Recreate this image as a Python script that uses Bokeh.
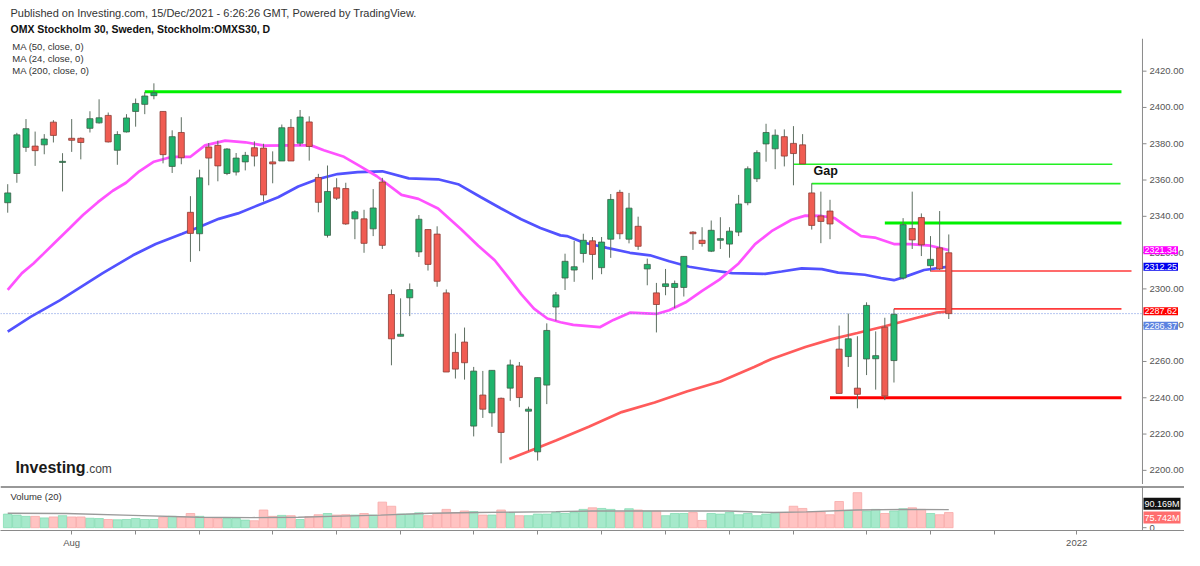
from bokeh.plotting import figure
from bokeh.layouts import column
from bokeh.models import Range1d, FixedTicker, Label, Span, ColumnDataSource
from bokeh.embed import file_html
from bokeh.resources import INLINE
from bokeh.core.properties import value

FONT = "Liberation Sans"
W = 1184

# ---------------- data ----------------
opens = [2347.5, 2363.6, 2378.0, 2378.7, 2379.4, 2391.9, 2369.7, 2383.0, 2383.0, 2388.5,
         2391.5, 2395.6, 2376.4, 2386.5, 2397.8, 2401.7, 2406.5, 2397.8, 2367.5, 2386.2,
         2342.2, 2330.4, 2378.2, 2379.1, 2363.6, 2364.4, 2370.0, 2377.8, 2377.6, 2370.0,
         2370.5, 2389.0, 2380.3, 2392.0, 2361.4, 2329.5, 2355.7, 2355.3, 2338.6, 2338.6,
         2333.1, 2358.9, 2296.9, 2273.9, 2295.1, 2320.4, 2332.7, 2330.2, 2297.8, 2265.0,
         2270.7, 2224.4, 2241.5, 2231.7, 2239.7, 2245.3, 2257.5, 2232.6, 2210.2, 2247.0,
         2290.0, 2306.0, 2310.4, 2319.5, 2326.5, 2311.7, 2327.4, 2353.2, 2327.4, 2334.5,
         2311.0, 2297.8, 2301.3, 2300.8, 2300.8, 2331.3, 2326.8, 2320.8, 2326.8, 2324.7,
         2331.3, 2347.5, 2360.7, 2379.9, 2377.2, 2383.9, 2380.2, 2379.4, 2352.9, 2340.2,
         2342.9, 2266.8, 2262.7, 2245.3, 2261.4, 2261.5, 2278.9, 2260.5, 2306.0, 2333.3,
         2339.3, 2312.8, 2322.6, 2319.9]
highs = [2357.7, 2386.0, 2393.6, 2386.7, 2385.3, 2393.0, 2374.8, 2393.6, 2383.5, 2397.9,
         2404.5, 2397.2, 2386.9, 2396.3, 2404.9, 2408.5, 2413.3, 2397.8, 2387.4, 2394.6,
         2351.1, 2365.7, 2380.4, 2381.7, 2377.6, 2374.9, 2375.5, 2381.3, 2380.0, 2375.8,
         2390.6, 2393.6, 2398.6, 2395.1, 2363.4, 2368.0, 2361.0, 2358.5, 2343.3, 2343.6,
         2355.0, 2361.2, 2299.7, 2294.8, 2303.0, 2340.7, 2332.7, 2334.5, 2299.7, 2275.4,
         2278.7, 2257.0, 2254.8, 2255.1, 2240.1, 2261.0, 2259.7, 2235.1, 2251.1, 2281.0,
         2298.3, 2319.4, 2326.5, 2330.4, 2328.6, 2328.6, 2352.3, 2354.6, 2352.9, 2339.8,
         2316.7, 2303.3, 2311.0, 2304.6, 2317.9, 2331.8, 2334.0, 2337.7, 2339.5, 2334.0,
         2351.8, 2367.5, 2376.4, 2391.0, 2387.9, 2387.9, 2389.7, 2385.3, 2358.2, 2353.6,
         2349.1, 2279.8, 2286.4, 2273.9, 2292.6, 2276.6, 2284.1, 2289.0, 2339.0, 2353.6,
         2341.6, 2329.1, 2342.9, 2330.0]
lows = [2342.0, 2358.5, 2375.5, 2367.8, 2374.2, 2380.7, 2353.7, 2375.5, 2371.4, 2386.2,
        2391.1, 2380.7, 2368.4, 2386.2, 2389.4, 2396.3, 2404.5, 2369.2, 2363.9, 2368.7,
        2314.9, 2320.8, 2357.1, 2359.3, 2362.7, 2362.5, 2365.3, 2367.5, 2348.2, 2358.2,
        2370.5, 2370.5, 2378.7, 2370.7, 2342.2, 2328.3, 2349.0, 2335.3, 2327.4, 2319.9,
        2329.1, 2322.0, 2257.9, 2273.9, 2285.0, 2317.6, 2310.1, 2301.2, 2254.2, 2250.6,
        2250.0, 2218.7, 2228.9, 2224.0, 2203.9, 2238.3, 2234.8, 2210.7, 2205.4, 2236.5,
        2282.5, 2299.4, 2303.9, 2314.5, 2305.1, 2308.1, 2317.1, 2327.4, 2325.1, 2321.5,
        2302.0, 2276.0, 2296.5, 2289.4, 2295.8, 2321.5, 2323.3, 2320.3, 2322.0, 2317.2,
        2329.1, 2346.1, 2358.9, 2370.1, 2366.0, 2367.5, 2357.1, 2368.9, 2332.7, 2325.2,
        2327.4, 2242.4, 2257.0, 2234.2, 2252.5, 2244.5, 2238.7, 2248.4, 2305.1, 2322.0,
        2318.1, 2309.6, 2310.4, 2283.4]
closes = [2352.9, 2384.9, 2388.3, 2376.2, 2382.6, 2384.6, 2370.3, 2381.9, 2380.7, 2393.8,
          2394.3, 2381.0, 2385.1, 2394.2, 2402.2, 2406.3, 2408.1, 2374.0, 2383.9, 2372.3,
          2330.6, 2361.2, 2372.1, 2367.8, 2377.1, 2372.1, 2373.6, 2373.2, 2351.8, 2368.9,
          2388.8, 2370.5, 2394.7, 2378.5, 2347.7, 2353.7, 2350.0, 2335.8, 2342.5, 2325.1,
          2344.6, 2324.0, 2272.5, 2275.0, 2299.6, 2338.4, 2313.5, 2304.2, 2254.2, 2255.8,
          2259.3, 2254.7, 2233.7, 2255.1, 2220.9, 2258.1, 2240.1, 2233.7, 2251.1, 2277.1,
          2296.7, 2315.2, 2312.2, 2326.8, 2319.0, 2325.8, 2349.3, 2330.4, 2344.5, 2323.5,
          2313.5, 2291.4, 2302.8, 2303.0, 2317.9, 2330.4, 2325.0, 2332.3, 2327.7, 2331.8,
          2346.8, 2366.2, 2375.1, 2386.2, 2384.7, 2373.2, 2374.6, 2368.9, 2335.0, 2337.2,
          2335.8, 2242.4, 2272.5, 2241.9, 2290.9, 2263.2, 2241.0, 2286.0, 2335.4, 2327.0,
          2324.3, 2316.3, 2311.0, 2286.37]
volumes = [67.9, 63.1, 56.8, 56.8, 48.9, 53.7, 60.0, 53.7, 53.7, 47.3,
           45.8, 41.0, 39.5, 41.0, 45.8, 41.0, 41.0, 52.1, 56.8, 55.2,
           71.0, 56.8, 50.5, 45.8, 45.8, 45.8, 37.9, 34.7, 88.4, 56.8,
           61.5, 60.0, 41.0, 55.2, 64.7, 71.0, 63.1, 64.7, 63.1, 71.0,
           63.1, 127.8, 107.3, 67.9, 67.9, 74.2, 60.0, 71.0, 91.5, 75.7,
           83.6, 80.5, 63.1, 63.1, 88.4, 75.7, 60.0, 60.0, 67.9, 67.9,
           75.7, 71.0, 75.7, 91.5, 99.4, 96.3, 91.5, 78.9, 94.7, 88.4,
           83.6, 83.6, 60.0, 71.0, 71.0, 75.7, 36.3, 71.0, 67.9, 75.7,
           64.7, 71.0, 60.0, 67.9, 75.7, 75.7, 107.3, 96.3, 78.9, 78.9,
           64.7, 131.0, 86.8, 175.2, 83.6, 91.5, 71.0, 83.6, 94.7, 99.4,
           91.5, 71.0, 64.7, 75.742]

# moving averages (bar position, value)
ma50_x = [0, 2.5, 5.7, 10.4, 13.7, 16.2, 19.1, 20.9, 23.1, 25.2, 27.4, 29.6, 31.8, 33.9, 36.1,
          38.3, 41.0, 43.9, 47.1, 49.3, 51.8, 54.0, 56.2, 58.3, 60.5, 61.2, 63.0, 65.6, 68.1,
          70.3, 72.4, 74.6, 76.8, 79.3, 82.9, 84.7, 86.9, 89.1, 90.9, 93.8, 95.6, 97.0, 98.1,
          100.3, 103]
ma50_y = [2276.5, 2284.6, 2293.7, 2308.7, 2318.5, 2324.7, 2330.4, 2334.0, 2338.6, 2341.6, 2346.1,
          2350.5, 2356.4, 2360.4, 2363.3, 2364.4, 2364.8, 2360.9, 2360.4, 2357.7, 2350.5, 2344.3,
          2338.4, 2333.6, 2329.5, 2329.1, 2325.6, 2322.6, 2319.9, 2318.5, 2315.2, 2312.2, 2310.4,
          2308.7, 2308.3, 2309.6, 2311.3, 2310.9, 2309.0, 2307.8, 2306.0, 2304.8, 2306.5, 2310.4,
          2312.25]
ma24_x = [0, 1.56, 2.82, 3.9, 5.17, 6.8, 8.24, 9.87, 11.5, 12.95, 14.4, 16.0, 18.0, 20.0, 21.6,
          23.8, 26.0, 28.1, 31.0, 33.2, 34.6, 36.8, 38.6, 40.4, 43.1, 44.95, 47.1, 49.65, 51.5,
          53.3, 54.7, 56.2, 57.6, 59.06, 60.5, 61.9, 64.8, 66.3, 68.1, 71.0, 72.4, 74.2, 76.0,
          77.9, 80.0, 81.8, 83.6, 85.8, 87.3, 89.1, 90.5, 92.0, 93.4, 94.9, 97.0, 98.8, 101.0, 103]
ma24_y = [2299.5, 2308.7, 2314.0, 2319.3, 2325.6, 2333.6, 2340.7, 2347.8, 2354.1, 2358.5, 2364.8,
          2370.1, 2372.8, 2372.8, 2379.1, 2381.7, 2380.8, 2379.0, 2379.1, 2379.1, 2376.4, 2372.8,
          2367.5, 2362.1, 2351.8, 2349.6, 2344.3, 2332.7, 2323.8, 2315.8, 2306.9, 2297.1, 2289.1,
          2283.7, 2281.6, 2280.2, 2278.9, 2282.9, 2286.9, 2286.2, 2288.2, 2292.6, 2298.9, 2305.1,
          2314.0, 2324.7, 2331.8, 2338.1, 2340.4, 2340.2, 2339.0, 2333.6, 2329.1, 2328.3, 2324.7,
          2324.7, 2323.8, 2321.34]
ma200_x = [54.9, 57.6, 60.0, 63.6, 67.2, 70.8, 74.4, 78.0, 81.7, 83.6, 87.3, 90.1, 93.0, 95.9,
           99.2, 101.7, 103]
ma200_y = [2206.2, 2211.6, 2216.4, 2224.0, 2232.1, 2237.4, 2243.6, 2249.0, 2257.0, 2261.4, 2268.0,
           2272.2, 2275.7, 2279.3, 2283.7, 2286.9, 2287.62]
volma_x = [0, 6.4, 13.7, 20.9, 26.7, 31.8, 35.4, 40.8, 46.2, 51.3, 60, 64, 69.4, 78.8, 83.8, 87.4,
           92.9, 98.3, 103]
volma_y = [72.6, 71.0, 61.5, 52.0, 50.5, 52.0, 56.8, 63.1, 72.6, 75.7, 80.5, 83.6, 83.6, 83.6,
           75.7, 78.9, 88.4, 91.5, 90.169]

# drawn support / resistance levels
lvl_price = [2408.6, 2368.7, 2358.0, 2336.3, 2309.9, 2289.0, 2240.0]
lvl_start = [15.0, 86.0, 88.0, 96.0, 101.0, 97.0, 90.0]
lvl_end = [121.9, 120.9, 121.8, 121.9, 123.0, 121.9, 121.9]

price_ticks = list(range(2200, 2421, 20))
vol_ticks = [0]
x_ticks = [7, 14, 21, 29, 36, 43, 51, 58, 65, 72, 79, 86, 94, 101, 108, 117]
x_tick_labels = {7: "Aug", 117: "2022"}

header1 = "Published on Investing.com, 15/Dec/2021 - 6:26:26 GMT, Powered by TradingView."
header2 = "OMX Stockholm 30, Sweden, Stockholm:OMXS30, D"
ma_legend = ["MA (50, close, 0)", "MA (24, close, 0)", "MA (200, close, 0)"]

# ---------------- styles ----------------
GREEN, GREEN_LINE = "#1fb46c", "#3e5e48"
RED, RED_LINE = "#f05c52", "#8a3e36"
WICK = "#5e6f62"
VGREEN, VGREEN_LINE = "#a6e9cb", "#86dcb4"
VRED, VRED_LINE = "#ffc3c2", "#f7a9a8"
AXIS = "#8a8a8a"
TICKTXT = "#555555"
lvl_color = ["#00f000", "#22f022", "#22f022", "#00f000", "#ff3a3a", "#ff3a3a", "#ff0000"]
lvl_width = [3, 1.6, 1.6, 3, 1.6, 1.6, 3]

AX_X = 124.2      # position of the price scale (bar units)
TICK_LEN = 0.44   # tick length (bar units)

n = len(closes)
idx = list(range(n))
up = [c >= o for o, c in zip(opens, closes)]


def sub(mask):
    return ColumnDataSource(dict(
        x=[i for i in idx if mask[i]],
        top=[max(opens[i], closes[i]) for i in idx if mask[i]],
        bottom=[min(opens[i], closes[i]) for i in idx if mask[i]],
        vol=[volumes[i] for i in idx if mask[i]],
    ))


src_up = sub(up)
src_dn = sub([not u for u in up])

X_RANGE = Range1d(-0.79, 128.8)


def price_scale(fig, ticks, labels):
    fig.add_layout(Span(location=AX_X, dimension="height", line_color=AXIS, line_width=1))
    fig.segment(x0=[AX_X] * len(ticks), y0=ticks, x1=[AX_X + TICK_LEN] * len(ticks), y1=ticks,
                line_color=AXIS, line_width=1)
    fig.text(x=[AX_X] * len(ticks), y=ticks, text=labels, x_offset=7,
             text_font=value(FONT), text_font_size="9.5px", text_color=TICKTXT,
             text_baseline="middle", text_align="left")


def tag(fig, y, text, bg, yoff=0):
    fig.add_layout(Label(x=AX_X, y=y, text=text, x_offset=1, y_offset=yoff,
                         text_font=FONT, text_font_size="9px", text_color="white",
                         text_baseline="middle", background_fill_color=bg, padding=1))


# ---------------- header ----------------
h = figure(width=W, height=38, x_range=Range1d(0, W), y_range=Range1d(38, 0),
           output_backend="svg", toolbar_location=None, x_axis_location=None,
           y_axis_location=None, min_border=0)
h.outline_line_color = None
h.grid.visible = False
h.add_layout(Label(x=10, y=12, text=header1, text_font=FONT, text_font_size="11px",
                   text_color="#333333", text_baseline="middle"))
h.add_layout(Label(x=10, y=28, text=header2, text_font=FONT, text_font_size="10.5px",
                   text_font_style="bold", text_color="#111111", text_baseline="middle"))

# ---------------- price pane ----------------
p = figure(width=W, height=446, x_range=X_RANGE, y_range=Range1d(2192.2, 2438.0),
           output_backend="svg", toolbar_location=None, x_axis_location=None,
           y_axis_location=None, min_border=0)
p.outline_line_color = None
p.grid.visible = False

for k, t in enumerate(ma_legend):
    p.add_layout(Label(x=0.5, y=2433.7 - 6.65 * k, text=t, text_font=FONT, text_font_size="9.5px",
                       text_color="#333333", text_baseline="middle"))

p.segment(x0=lvl_start, y0=lvl_price, x1=lvl_end, y1=lvl_price,
          line_color=lvl_color, line_width=lvl_width)

p.line(ma200_x, ma200_y, line_color="#ff5b5b", line_width=2.7)
p.line(ma50_x, ma50_y, line_color="#5252ff", line_width=2.7)
p.line(ma24_x, ma24_y, line_color="#ff52ff", line_width=2.7)

p.segment(x0=[-0.79], y0=[closes[-1]], x1=[AX_X], y1=[closes[-1]], line_color="#6a8be0",
          line_dash="1 2", line_width=1)

p.segment(x0=idx, y0=lows, x1=idx, y1=highs, line_color=WICK, line_width=1)
p.vbar(x="x", top="top", bottom="bottom", width=0.66, source=src_up,
       fill_color=GREEN, line_color=GREEN_LINE, line_width=0.8)
p.vbar(x="x", top="top", bottom="bottom", width=0.66, source=src_dn,
       fill_color=RED, line_color=RED_LINE, line_width=0.8)

p.add_layout(Label(x=88.2, y=2364.8, text="Gap", text_font=FONT, text_font_size="12.5px",
                   text_font_style="bold", text_color="#111111", text_baseline="middle"))
p.add_layout(Label(x=0.84, y=2201.5, text="Investing", text_font=FONT, text_font_size="16px",
                   text_font_style="bold", text_color="#1a1a1a", text_baseline="middle"))
p.add_layout(Label(x=8.55, y=2200.6, text=".com", text_font=FONT, text_font_size="12px",
                   text_color="#444444", text_baseline="middle"))

price_scale(p, price_ticks, [f"{t:.2f}" for t in price_ticks])

tag(p, ma24_y[-1], "2321.34", "#ff00ff")
tag(p, ma50_y[-1], "2312.25", "#0000ee")
tag(p, ma200_y[-1], "2287.62", "#ff0000")
tag(p, closes[-1], "2286.37", "#5b82e0", yoff=-12)

# ---------------- volume pane ----------------
v = figure(width=W, height=66, x_range=X_RANGE, y_range=Range1d(-14, 206),
           output_backend="svg", toolbar_location=None, y_axis_location=None,
           min_border_left=0, min_border_right=0, min_border_top=2, min_border_bottom=0)
v.outline_line_color = None
v.grid.visible = False
v.vbar(x="x", top="vol", bottom=0, width=0.94, source=src_up,
       fill_color=VGREEN, line_color=VGREEN_LINE, line_width=0.8)
v.vbar(x="x", top="vol", bottom=0, width=0.94, source=src_dn,
       fill_color=VRED, line_color=VRED_LINE, line_width=0.8)
v.line(volma_x, volma_y, line_color="#9a9a9a", line_width=1.4)
v.add_layout(Span(location=206, dimension="width", line_color="#333333", line_width=2))
v.add_layout(Label(x=0.3, y=158, text="Volume (20)", text_font=FONT, text_font_size="9.5px",
                   text_color="#333333", text_baseline="middle"))

price_scale(v, vol_ticks, [str(t) for t in vol_ticks])

vx = v.xaxis[0]
vx.ticker = FixedTicker(ticks=x_ticks)
vx.major_label_overrides = {t: x_tick_labels.get(t, "") for t in x_ticks}
vx.major_label_text_font = FONT
vx.major_label_text_font_size = "9.5px"
vx.major_label_text_color = TICKTXT
vx.axis_line_color = AXIS
vx.major_tick_line_color = AXIS
vx.major_tick_out = 4
vx.major_tick_in = 0
vx.minor_tick_line_color = None
vx.major_label_standoff = 2

tag(v, volma_y[-1], "90.169M", "#111111", yoff=6)
tag(v, volumes[-1], "75.742M", "#ff6e6e", yoff=-5)

layout = column(h, p, v, spacing=0)
open("out.html", "w").write(file_html(layout, INLINE))
